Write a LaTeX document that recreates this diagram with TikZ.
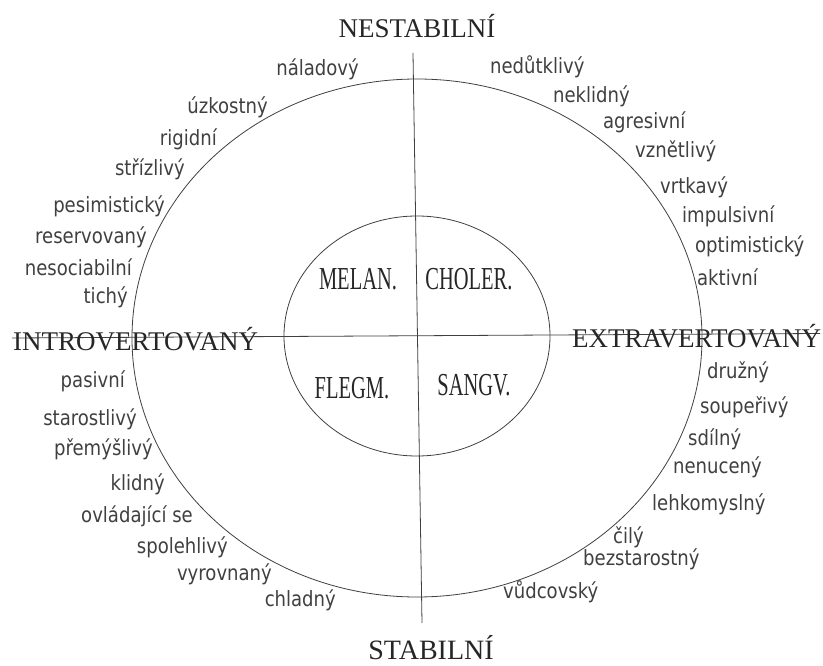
\documentclass[tikz,border=0pt]{standalone}
\usepackage{fontspec}
\setmainfont{Liberation Serif}
\newfontfamily\traitfont{DejaVu Sans}
\usetikzlibrary{shapes.geometric}
\begin{document}
\begin{tikzpicture}[x=1pt,y=-1pt,
  axisline/.style={draw=black!75, line width=0.8pt},
  ring/.style={draw=black!75, line width=0.8pt, ellipse, inner sep=0pt},
  trait/.style={font=\traitfont\fontsize{21}{23}\selectfont, text=black!75, inner sep=0pt, text height=15pt, text depth=4.5pt, xscale=0.86},
  traitL/.style={trait, anchor=east},
  traitR/.style={trait, anchor=west},
  pole/.style={font=\fontsize{27}{30}\selectfont, text=black!85, inner sep=0pt},
  temper/.style={font=\fontsize{32}{34}\selectfont, text=black!85, inner sep=0pt, anchor=base, xscale=0.64}
]
\useasboundingbox[fill=white] (0,0) rectangle (823,666);

% rings
\node[ring, minimum width=570pt, minimum height=518pt] (outerc) at (417,338) {};
\node[ring, minimum width=266pt, minimum height=240pt] (innerc) at (417,336) {};

% axes
\coordinate (top) at (413,53);
\coordinate (bot) at (422,623);
\coordinate (lft) at (12,338);
\coordinate (rgt) at (820,333.5);
\draw[axisline] (top) -- (bot);
\draw[axisline] (lft) -- (rgt);

% poles
\node[pole, anchor=base] (nest) at (417,38) {NESTABILNÍ};
\node[pole, anchor=base, font=\fontsize{28}{30}\selectfont] (stab) at (431,659) {STABILNÍ};
\node[pole, anchor=base west] (intro) at (13,350) {INTROVERTOVANÝ};
\node[pole, anchor=base west] (extra) at (572,347) {EXTRAVERTOVANÝ};

% temperaments
\node[temper] (mel) at (358,290) {MELAN.};
\node[temper] (cho) at (469,290) {CHOLER.};
\node[temper] (fle) at (352,398) {FLEGM.};
\node[temper] (san) at (474,395) {SANGV.};

% left traits
\node[traitL] (t1) at (359,70) {náladový};
\node[traitL] (t2) at (268,108) {úzkostný};
\node[traitL] (t3) at (217,140) {rigidní};
\node[traitL] (t4) at (185,170) {střízlivý};
\node[traitL] (t5) at (165,207) {pesimistický};
\node[traitL] (t6) at (147,238) {reservovaný};
\node[traitL] (t7) at (132,270) {nesociabilní};
\node[traitL] (t8) at (128,298) {tichý};
\node[traitL] (t9) at (125,382) {pasivní};
\node[traitL] (t10) at (137,420) {starostlivý};
\node[traitL] (t11) at (153,450) {přemýšlivý};
\node[traitL] (t12) at (165,485) {klidný};
\node[traitL] (t13) at (193,517) {ovládající se};
\node[traitL] (t14) at (228,548) {spolehlivý};
\node[traitL] (t15) at (272,575) {vyrovnaný};
\node[traitL] (t16) at (336,601) {chladný};

% right traits
\node[traitR] (r1) at (490,68) {nedůtklivý};
\node[traitR] (r2) at (553,97) {neklidný};
\node[traitR] (r3) at (603,123) {agresivní};
\node[traitR] (r4) at (635,152) {vznětlivý};
\node[traitR] (r5) at (660,188) {vrtkavý};
\node[traitR] (r6) at (682,217) {impulsivní};
\node[traitR] (r7) at (695,247) {optimistický};
\node[traitR] (r8) at (697,280) {aktivní};
\node[traitR] (r9) at (707,373) {družný};
\node[traitR] (r10) at (700,408) {soupeřivý};
\node[traitR] (r11) at (688,440) {sdílný};
\node[traitR] (r12) at (673,468) {nenucený};
\node[traitR] (r13) at (652,505) {lehkomyslný};
\node[traitR] (r14) at (613,538) {čilý};
\node[traitR] (r15) at (583,560) {bezstarostný};
\node[traitR] (r16) at (503,593) {vůdcovský};
\end{tikzpicture}
\end{document}
